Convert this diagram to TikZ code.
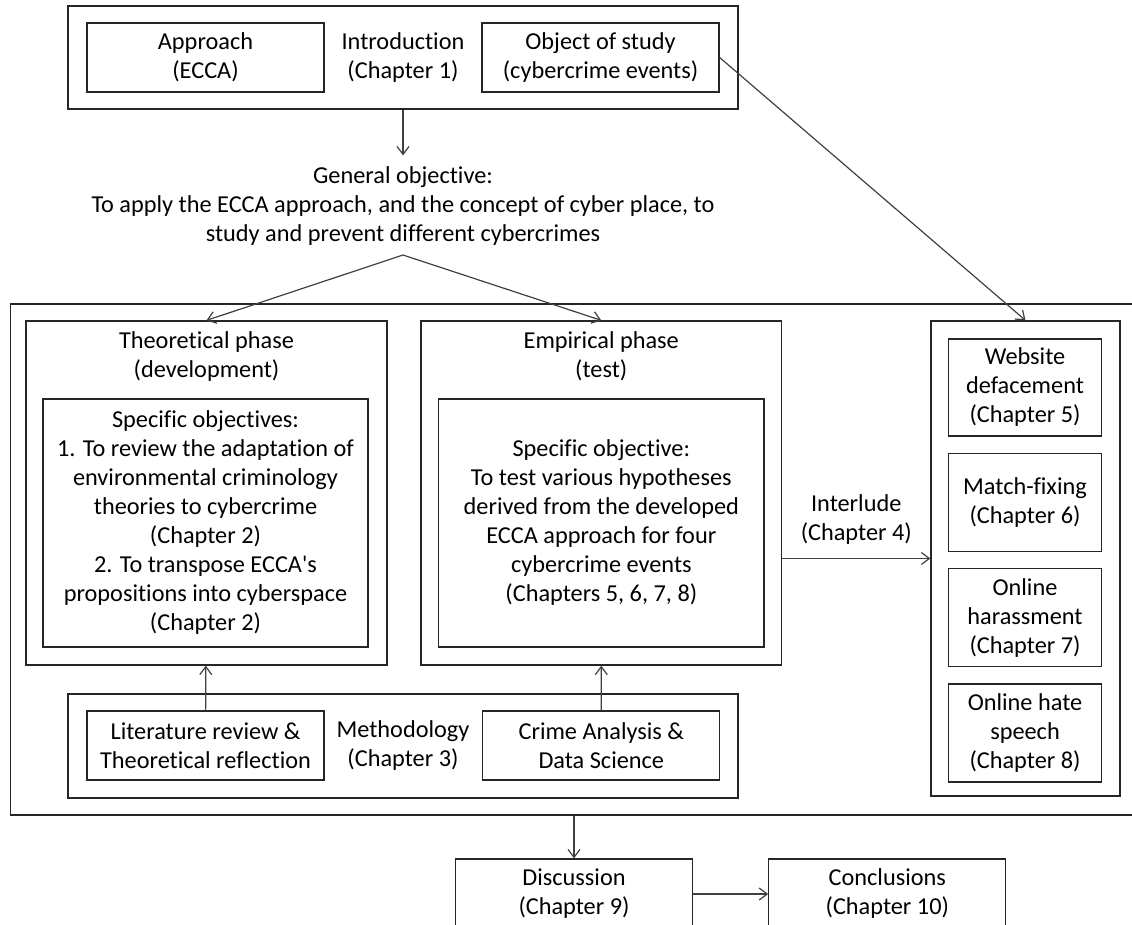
\documentclass[tikz,border=0pt]{standalone}
\usepackage{fontspec}
\setmainfont{Carlito}[Ligatures=NoCommon]
\usetikzlibrary{positioning,arrows.meta}
\tikzset{
    box/.style={draw=black!85, line width=1.3pt, align=center, inner sep=0pt},
    txt/.style={align=center, inner sep=0pt},
}
\begin{document}
\begin{tikzpicture}[x=1pt, y=-1pt, ->, >={Straight Barb[length=8pt,width=12pt]},
                    every edge/.style={draw=black!75, line width=1.2pt},
                    font=\fontsize{24.3}{29}\selectfont]
                \clip (0,0) rectangle (1132,924);
                \node [box, minimum width=670pt, minimum height=103pt] (intro) at (403,57.5) {};
                \node [box, minimum width=237pt, minimum height=69pt] (approach) at (205.5,57.5) {Approach\\(ECCA)};
                \node [txt] (introtxt) at (403,57.5) {Introduction\\(Chapter 1)};
                \node [box, minimum width=237pt, minimum height=69pt] (object) at (600.5,57.5) {Object of study\\(cybercrime events)};
                \node [txt, inner ysep=11pt] (goal) at (403,206) {General objective:\\To apply the ECCA approach, and the concept of cyber place, to\\study and prevent different cybercrimes};
                \coordinate (fork) at (403,255);
                \node [box, minimum width=1140pt, minimum height=511pt] (frame) at (580.5,559.5) {};
                \node [box, minimum width=361pt, minimum height=344pt] (theo) at (206.5,493) {};
                \node [txt] (theotitle) at (206.5,356.5) {Theoretical phase\\(development)};
                \node [box, minimum width=325pt, minimum height=248pt] (specobj) at (205.5,523) {Specific objectives:\\1. To review the adaptation of\\environmental criminology\\theories to cybercrime\\(Chapter 2)\\2. To transpose ECCA\textquotesingle s\\propositions into cyberspace\\(Chapter 2)};
                \node [box, minimum width=360.5pt, minimum height=344pt] (emp) at (601.25,493) {};
                \node [txt] (emptitle) at (601.25,356.5) {Empirical phase\\(test)};
                \node [box, minimum width=325.5pt, minimum height=248pt] (testobj) at (601.3,523) {Specific objective:\\To test various hypotheses\\derived from the developed\\ECCA approach for four\\cybercrime events\\(Chapters 5, 6, 7, 8)};
                \node [box, minimum width=189pt, minimum height=475pt] (events) at (1025.5,558.5) {};
                \node [box, minimum width=153pt, minimum height=97pt] (deface) at (1025,387.5) {Website\\defacement\\(Chapter 5)};
                \node [box, minimum width=153pt, minimum height=98pt] (fixing) [below=16pt of deface] {Match-fixing\\(Chapter 6)};
                \node [box, minimum width=153pt, minimum height=98pt] (harass) [below=16pt of fixing] {Online\\harassment\\(Chapter 7)};
                \node [box, minimum width=153pt, minimum height=98pt] (hate) [below=16pt of harass] {Online hate\\speech\\(Chapter 8)};
                \node [box, minimum width=670pt, minimum height=104pt] (method) at (403,746) {};
                \node [box, minimum width=237pt, minimum height=69pt] (litrev) at (205.5,745.5) {Literature review \&\\Theoretical reflection};
                \node [txt] (methodtxt) at (403,746) {Methodology\\(Chapter 3)};
                \node [box, minimum width=237pt, minimum height=69pt] (crimeds) at (601.3,745.5) {Crime Analysis \&\\Data Science};
                \node [box, minimum width=237pt, minimum height=70pt] (disc) at (574,894) {Discussion\\(Chapter 9)};
                \node [box, minimum width=237pt, minimum height=70pt] (concl) [right=75pt of disc] {Conclusions\\(Chapter 10)};
                \path (intro) edge (goal);
                \path (fork) edge (theo.north);
                \path (fork) edge (emp.north);
                \path (object.east) edge (events.north);
                \path (litrev) edge (theo);
                \path (crimeds) edge (emp);
                \path (emp.east |- events.west) edge node [txt, above=13pt] {Interlude\\(Chapter 4)} (events.west);
                \path (disc.north |- frame.south) edge (disc);
                \path (disc) edge (concl);
            \end{tikzpicture}
\end{document}
